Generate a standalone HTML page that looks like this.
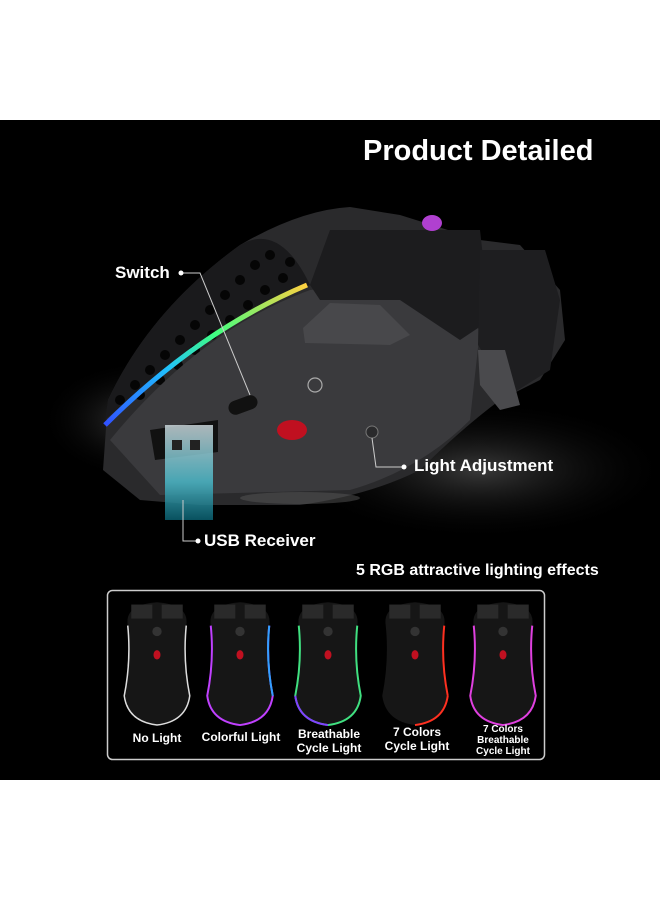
<!DOCTYPE html>
<html><head><meta charset="utf-8"><style>
html,body{margin:0;padding:0;background:#fff;}
body{width:660px;height:900px;position:relative;overflow:hidden;font-family:"Liberation Sans",sans-serif;}
.blk{position:absolute;left:0;top:120px;width:660px;height:660px;background:#000;}
.t{position:absolute;color:#fff;font-weight:bold;white-space:nowrap;}
.lab{position:absolute;color:#fff;font-weight:bold;font-size:11.5px;text-align:center;line-height:13px;}
</style></head><body>
<div class="blk"></div>
<svg width="660" height="900" style="position:absolute;left:0;top:0">
<defs>
<linearGradient id="rgb" x1="0" y1="1" x2="1" y2="0">
<stop offset="0" stop-color="#3050ff"/><stop offset="0.35" stop-color="#20c0ff"/><stop offset="0.6" stop-color="#40ff80"/><stop offset="1" stop-color="#ffd040"/></linearGradient>
<linearGradient id="usb" x1="0" y1="0" x2="0" y2="1"><stop offset="0" stop-color="#c8d4d8"/><stop offset="0.6" stop-color="#4ab8c8"/><stop offset="1" stop-color="#0a6070"/></linearGradient>
<radialGradient id="mtn" cx="0.5" cy="0.5" r="0.5"><stop offset="0" stop-color="#3a3a3a"/><stop offset="1" stop-color="#000" stop-opacity="0"/></radialGradient>
<g id="m"><path d="M-25,-20 Q-28,-38 0,-40 Q28,-38 25,-20 Q22,10 28,40 Q25,62 0,65 Q-25,62 -28,40 Q-22,10 -25,-20Z" fill="#161616"/>
<rect x="-22" y="-38" width="18" height="12" fill="#2a2a2a"/><rect x="4" y="-38" width="18" height="12" fill="#2a2a2a"/>
<ellipse cx="0" cy="5" rx="3" ry="4" fill="#c01020"/><circle cx="0" cy="-15" r="4" fill="#333"/></g>
</defs>
<ellipse cx="480" cy="470" rx="190" ry="70" fill="url(#mtn)"/>
<ellipse cx="140" cy="420" rx="100" ry="60" fill="url(#mtn)"/>
<path d="M103,470 L108,400 Q150,310 240,245 Q300,210 350,207 L400,215 L480,240 L520,245 L560,290 L565,340 L540,380 L500,400 Q460,430 420,470 Q370,495 300,505 L200,505 L140,500 Z" fill="#2a2a2c"/>
<path d="M108,400 Q150,310 240,245 Q280,222 310,285 Q220,320 105,420 Z" fill="#1a1a1c"/>
<g fill="#050505">
<circle cx="150" cy="370" r="5"/><circle cx="165" cy="355" r="5"/><circle cx="180" cy="340" r="5"/><circle cx="195" cy="325" r="5"/><circle cx="210" cy="310" r="5"/><circle cx="225" cy="295" r="5"/><circle cx="240" cy="280" r="5"/><circle cx="255" cy="265" r="5"/><circle cx="270" cy="255" r="5"/>
<circle cx="135" cy="385" r="5"/><circle cx="160" cy="380" r="5"/><circle cx="178" cy="365" r="5"/><circle cx="195" cy="350" r="5"/><circle cx="212" cy="335" r="5"/><circle cx="230" cy="320" r="5"/><circle cx="248" cy="305" r="5"/><circle cx="265" cy="290" r="5"/><circle cx="283" cy="278" r="5"/>
<circle cx="120" cy="400" r="5"/><circle cx="140" cy="395" r="5"/><circle cx="290" cy="262" r="5"/></g>
<path d="M110,440 Q200,330 310,290 L420,280 L480,330 L470,420 Q420,470 350,490 L160,495 Z" fill="#3a3a3d"/>
<path d="M105,425 Q200,330 307,285" stroke="url(#rgb)" stroke-width="5" fill="none"/>
<path d="M330,230 L480,230 L490,320 L460,340 L400,300 L320,300 L310,285 Z" fill="#1c1c1e"/>
<path d="M303,328 L330,303 L380,305 L410,335 L390,345 L305,343 Z" fill="#48484b"/>
<path d="M480,250 L545,250 L560,300 L550,370 L510,395 L478,345 Z" fill="#1e1e20"/>
<path d="M478,350 L505,350 L520,405 L500,410 L480,385Z" fill="#4a4a4d"/>
<ellipse cx="432" cy="223" rx="10" ry="8" fill="#b040d0"/>
<path d="M150,430 L218,420 L218,452 L155,460 Z" fill="#111"/>
<rect x="165" y="425" width="48" height="95" fill="url(#usb)" opacity="0.85"/>
<rect x="172" y="440" width="10" height="10" fill="#222"/><rect x="190" y="440" width="10" height="10" fill="#222"/>
<rect x="228" y="398" width="30" height="14" rx="7" fill="#111" transform="rotate(-20 243 405)"/>
<ellipse cx="292" cy="430" rx="15" ry="10" fill="#c01020"/>
<circle cx="372" cy="432" r="6" fill="#2a2a2c" stroke="#777"/>
<circle cx="315" cy="385" r="7" fill="none" stroke="#aaa" stroke-width="1.2"/>
<ellipse cx="300" cy="498" rx="60" ry="6" fill="#555" opacity="0.5"/>
<g stroke="#ccc" stroke-width="1" fill="none">
<polyline points="181,273 200,273 250,395"/>
<polyline points="372,438 376,467 404,467"/>
<polyline points="183,500 183,541 198,541"/>
</g>
<g fill="#fff"><circle cx="181" cy="273" r="2.5"/><circle cx="404" cy="467" r="2.5"/><circle cx="198" cy="541" r="2.5"/></g>
<rect x="107.5" y="590.5" width="437" height="169" rx="5" fill="#000" stroke="#ccc" stroke-width="1.5"/>
<g transform="translate(157,649) scale(1.17)"><use href="#m"/><path d="M-25,-20 Q-22,10 -28,40 Q-25,62 0,65 Q25,62 28,40 Q22,10 25,-20" stroke="#ddd" stroke-width="1.3" fill="none"/></g>
<g transform="translate(240,649) scale(1.17)"><use href="#m"/><path d="M-25,-20 Q-22,10 -28,40 Q-25,62 0,65 Q25,62 28,40 Q22,10 25,-20" stroke="#c040ff" stroke-width="1.7" fill="none"/><path d="M25,-20 Q22,10 28,40" stroke="#30a0ff" stroke-width="1.7" fill="none"/></g>
<g transform="translate(328,649) scale(1.17)"><use href="#m"/><path d="M-25,-20 Q-22,10 -28,40 Q-25,62 0,65 Q25,62 28,40 Q22,10 25,-20" stroke="#40e080" stroke-width="1.7" fill="none"/><path d="M-28,40 Q-25,62 0,65" stroke="#8040ff" stroke-width="1.7" fill="none"/></g>
<g transform="translate(415,649) scale(1.17)"><use href="#m"/><path d="M28,40 Q25,62 0,65 M25,-20 Q22,10 28,40" stroke="#ff3020" stroke-width="1.7" fill="none"/></g>
<g transform="translate(503,649) scale(1.17)"><use href="#m"/><path d="M-25,-20 Q-22,10 -28,40 Q-25,62 0,65 Q25,62 28,40 Q22,10 25,-20" stroke="#e040e0" stroke-width="1.7" fill="none"/></g>
</svg>
<div class="t" style="left:363px;top:135px;font-size:29px;">Product Detailed</div>
<div class="t" style="left:115px;top:263px;font-size:17px;">Switch</div>
<div class="t" style="left:414px;top:456px;font-size:17px;">Light Adjustment</div>
<div class="t" style="left:204px;top:531px;font-size:17px;">USB Receiver</div>
<div class="t" style="left:356px;top:562px;font-size:16px;">5 RGB attractive lighting effects</div>
<div class="lab" style="left:117px;top:732px;width:80px;font-size:12px;">No Light</div>
<div class="lab" style="left:195px;top:731px;width:92px;font-size:12px;">Colorful Light</div>
<div class="lab" style="left:288px;top:727px;width:82px;font-size:12px;line-height:14px;">Breathable<br>Cycle Light</div>
<div class="lab" style="left:376px;top:725px;width:82px;font-size:12px;line-height:14px;">7 Colors<br>Cycle Light</div>
<div class="lab" style="left:463px;top:724px;width:80px;font-size:10px;line-height:11px;">7 Colors<br>Breathable<br>Cycle Light</div>
</body></html>
